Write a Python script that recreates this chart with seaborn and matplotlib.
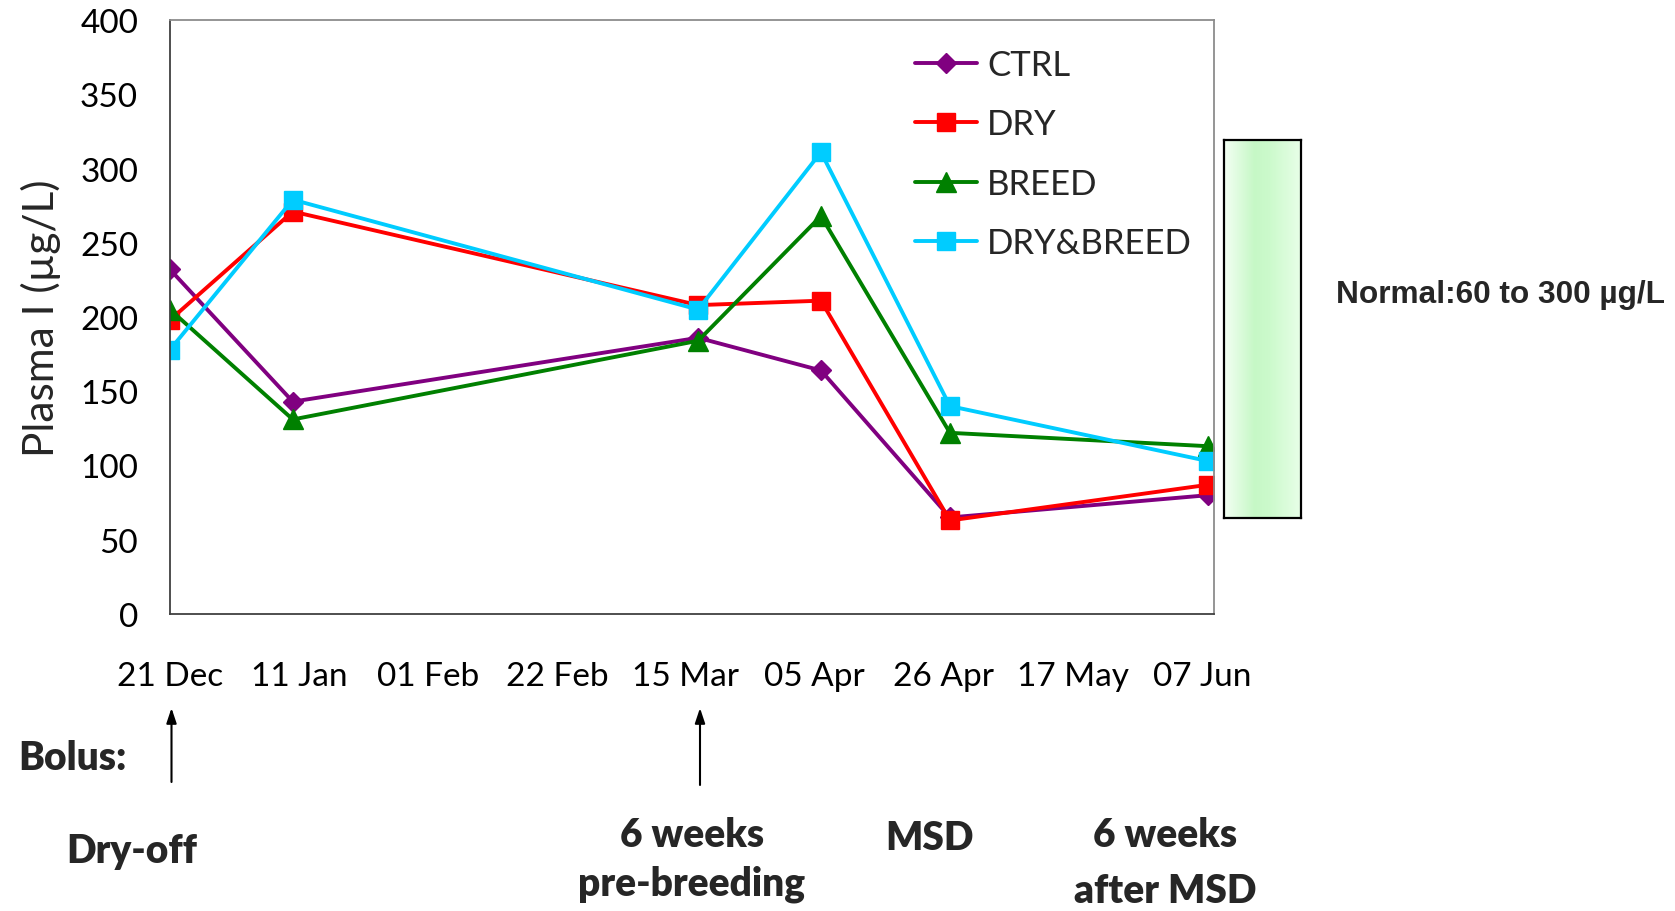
import numpy as np
import pandas as pd
import matplotlib
matplotlib.use("Agg")
import matplotlib.pyplot as plt
import seaborn as sns
from matplotlib.colors import LinearSegmentedColormap

# ---------------- data ----------------
sample_dates = ["2010-12-21", "2011-01-10", "2011-03-17", "2011-04-06", "2011-04-27", "2011-06-08"]
ctrl = [232, 143, 186, 164, 65, 80]
dry = [198, 271, 208, 211, 63, 87]
breed = [205, 131, 184, 268, 122, 113]
dry_breed = [178, 279, 205, 311, 140, 103]
series_names = ["CTRL", "DRY", "BREED", "DRY&BREED"]

tick_dates = ["2010-12-21", "2011-01-11", "2011-02-01", "2011-02-22", "2011-03-15",
              "2011-04-05", "2011-04-26", "2011-05-17", "2011-06-07"]
tick_labels = ["21 Dec", "11 Jan", "01 Feb", "22 Feb", "15 Mar", "05 Apr", "26 Apr", "17 May", "07 Jun"]
y_ticks = [0, 50, 100, 150, 200, 250, 300, 350, 400]

y_label = "Plasma I (µg/L)"
normal_text = "Normal:60 to 300 µg/L"
bolus_label = "Bolus:"
event_labels = ["Dry-off", "6 weeks", "pre-breeding", "MSD", "6 weeks", "after MSD"]

# ---------------- style ----------------
sns.set_style("white")
plt.rcParams["font.family"] = ["Lato", "DejaVu Sans"]

W, H = 1675, 912
def fx(x):
    return x / W
def fy(y):
    return 1 - y / H

fig = plt.figure(figsize=(W / 100, H / 100), dpi=100)
ax = fig.add_axes([fx(170), fy(615), (1214 - 170) / W, (615 - 21) / H])

dates = pd.to_datetime(sample_dates)
colors = ["#800080", "#FF0000", "#008000", "#00CCFF"]
markers = ["D", "s", "^", "s"]
msizes = [10.5, 13.5, 15, 13.5]
for name, vals, c, m, ms in zip(series_names, [ctrl, dry, breed, dry_breed], colors, markers, msizes):
    sns.lineplot(x=dates, y=vals, color=c, marker=m, markersize=ms, linewidth=2.8,
                 markeredgecolor=c, markeredgewidth=1, label=name, ax=ax, sort=False)

ax.set_xlim(pd.Timestamp("2010-12-21"), pd.Timestamp("2011-06-09"))
ax.set_ylim(0, 400)
ax.set_xticks(pd.to_datetime(tick_dates))
ax.set_xticklabels(tick_labels)
ax.set_yticks(y_ticks)
ax.set_xlabel("")
ax.set_ylabel("")
ax.tick_params(axis="both", direction="out", length=9, width=1.3, color="#404040",
               labelsize=24, labelcolor="black")
ax.tick_params(axis="x", pad=25)
ax.tick_params(axis="y", pad=14)
for s in ["top", "right"]:
    ax.spines[s].set_color("#8c8c8c")
    ax.spines[s].set_linewidth(1.3)
for s in ["left", "bottom"]:
    ax.spines[s].set_color("#404040")
    ax.spines[s].set_linewidth(1.3)

fig.text(fx(41), fy(318), y_label, rotation=90, ha="center", va="center", fontsize=30.5)

ax.legend(loc="upper left", bbox_to_anchor=(fx(915), fy(50)), bbox_transform=fig.transFigure,
          frameon=False, fontsize=25, handlelength=1.79, handletextpad=0.29,
          labelspacing=0.79, borderpad=0, borderaxespad=0)

# green normal-range box
bx = fig.add_axes([fx(1224), fy(519), 77 / W, 378 / H])
cmap = LinearSegmentedColormap.from_list(
    "g", [(0, "#f4fff4"), (0.4, "#c6f8c6"), (0.6, "#ccfacc"), (1, "#e8ffe8")])
bx.imshow(np.linspace(0, 1, 256)[None, :], aspect="auto", cmap=cmap, extent=[0, 1, 0, 1])
bx.set_xticks([])
bx.set_yticks([])
for s in bx.spines.values():
    s.set_color("black")
    s.set_linewidth(1.6)

fig.text(fx(1336), fy(302.7), normal_text, family="Liberation Sans", fontweight="bold",
         fontsize=22.8, ha="left", va="baseline")

# bottom annotations
bold = dict(fontweight="heavy", fontsize=28, va="baseline")
fig.text(fx(18), fy(770), bolus_label, ha="left", **bold)
positions = [(132, 863), (692, 847), (692, 896), (930, 850), (1165, 847), (1165, 903)]
for lab, (px, py) in zip(event_labels, positions):
    fig.text(fx(px), fy(py), lab, ha="center", **bold)

for ax_x, y0, y1 in [(171.5, 783, 709), (700, 786, 709)]:
    ax.annotate("", xy=(fx(ax_x), fy(y1)), xytext=(fx(ax_x), fy(y0)),
                xycoords="figure fraction", textcoords="figure fraction",
                arrowprops=dict(arrowstyle="-|>,head_length=0.6,head_width=0.2",
                                color="black", lw=1.5, mutation_scale=15,
                                shrinkA=0, shrinkB=0))

fig.savefig("out.png", dpi=100)
